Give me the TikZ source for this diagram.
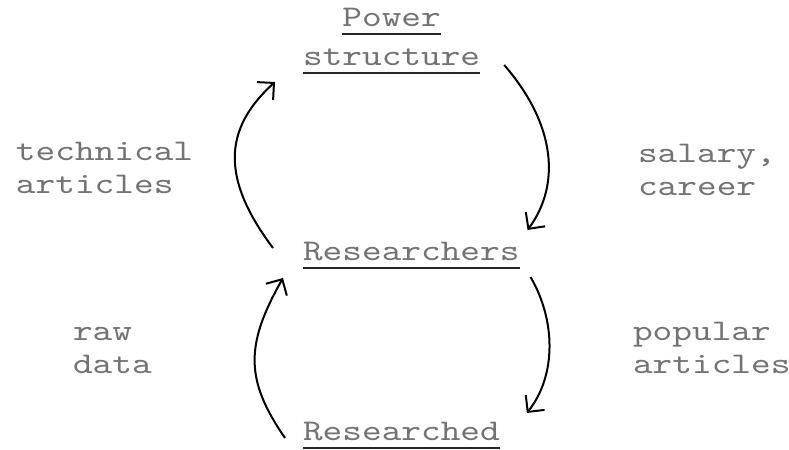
\documentclass[tikz,border=0pt]{standalone}
\usepackage{fontspec}
\newfontfamily\typefont{lmmono10-regular}[Extension=.otf,FakeStretch=1.25]
\usetikzlibrary{arrows.meta}
\newcommand\typeul[1]{\setbox0\hbox{#1}\rlap{\color{black!85}\rule[-0.3em]{\wd0}{0.07em}}\box0}

\begin{document}
\begin{tikzpicture}[x=0.5pt,y=-0.5pt,line width=1pt,
	words/.style={inner sep=0pt,anchor=base west,align=left,text=black!55,font={\typefont\fontsize{15}{16.5}\selectfont}},
	flow/.style={-{Straight Barb[length=6pt,width=12pt]}}]
	\useasboundingbox (0,0) rectangle (789,450);
	\path
	(302,65) coordinate (P)
	(302,260) coordinate (R)
	(302,440) coordinate (D)
	(15,193) coordinate (T)
	(637,195) coordinate (S)
	(72,373) coordinate (W)
	(632,373) coordinate (U)
	;
	\path
	(P) node[words,align=center] (power) {\typeul{Power}\\[3pt]\typeul{structure}}
	(R) node[words] (researchers) {\typeul{Researchers}}
	(D) node[words] (researched) {\typeul{Researched}}
	(T) node[words] (technical) {technical\\articles}
	(S) node[words] (salary) {salary,\\career}
	(W) node[words] (raw) {raw\\data}
	(U) node[words] (popular) {popular\\articles}
	;
	\draw[flow] ([shift={(-29,-12)}]researchers.base west) .. controls +(-51,-68) and +(-53,48) .. ([shift={(-27,17)}]power.base west);
	\draw[flow] ([shift={(23,0)}]power.base east) .. controls +(52,60) and +(33,-45) .. ([shift={(7,-30)}]researchers.base east);
	\draw[flow] ([shift={(-17,-2)}]researched.base west) .. controls +(-40,-58) and +(-38,67) .. ([shift={(-19,18)}]researchers.base west);
	\draw[flow] ([shift={(10,17)}]researchers.base east) .. controls +(25,43) and +(30,-38) .. ([shift={(26,-27)}]researched.base east);
\end{tikzpicture}
\end{document}
